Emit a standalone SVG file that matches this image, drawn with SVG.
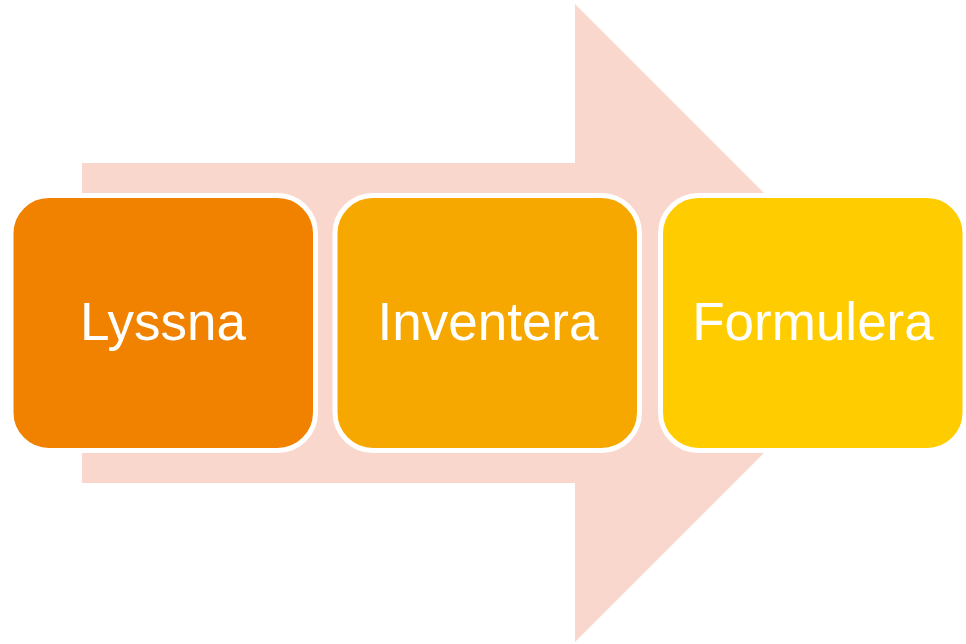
<svg xmlns="http://www.w3.org/2000/svg" width="966" height="644" viewBox="0 0 966 644">
<style>
.box{stroke:#fff;stroke-width:5}
.lbl{font-family:"Liberation Sans",Arial,sans-serif;font-size:53px;fill:#fff;text-anchor:middle}
</style>
<rect width="966" height="644" fill="#fff"/>
<g id="arrow">
<polygon points="82,163 575,163 575,4 894,323 575,642 575,483 82,483" fill="#F9D7CD"/>
</g>
<g id="connectors"></g>
<g id="node1">
<rect class="box" x="11" y="195.5" width="304.5" height="255" rx="38" fill="#F08200"/>
<text class="lbl" x="163" y="340">Lyssna</text>
</g>
<g id="node2">
<rect class="box" x="335" y="195.5" width="304.5" height="255" rx="38" fill="#F6A800"/>
<text class="lbl" x="488" y="340">Inventera</text>
</g>
<g id="node3">
<rect class="box" x="660.5" y="195.5" width="304.5" height="255" rx="38" fill="#FFCC00"/>
<text class="lbl" x="813" y="340">Formulera</text>
</g>
</svg>
